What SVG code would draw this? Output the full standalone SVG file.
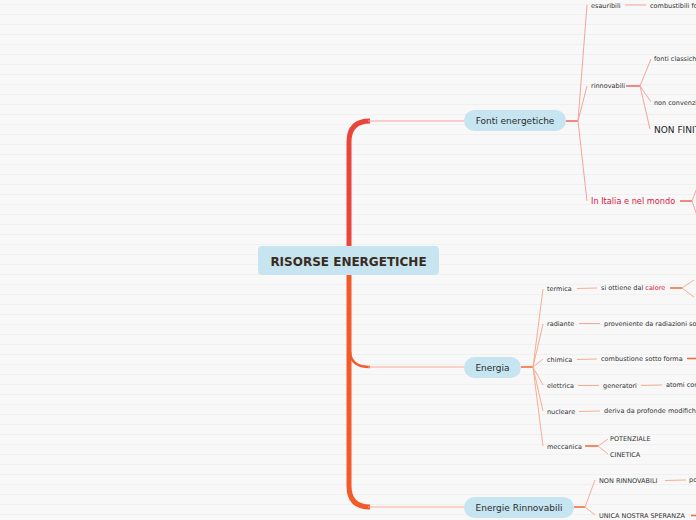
<svg xmlns="http://www.w3.org/2000/svg" width="696" height="520" viewBox="0 0 696 520">
<defs>
<pattern id="stripes" x="0" y="0" width="696" height="10" patternUnits="userSpaceOnUse">
<rect width="696" height="10" fill="#f8f8f8"/>
<line x1="0" y1="4.5" x2="696" y2="4.5" stroke="#f0f0f0" stroke-width="1"/>
</pattern>
<style>
.t{font-family:"DejaVu Sans",Verdana,sans-serif;font-size:6.5px;fill:#333333}
.tr{fill:#d6173f}
.n{font-family:"DejaVu Sans",Verdana,sans-serif;font-size:9px;fill:#2b2b2b;text-anchor:middle}
.box{fill:#c6e5f1}
.cf{fill:none;stroke:#f5a39e;stroke-width:1}
.cfs{fill:none;stroke:#ee6d66;stroke-width:1.6}
.ce{fill:none;stroke:#f7ad92;stroke-width:1}
.ces{fill:none;stroke:#f0703e;stroke-width:1.6}
</style>
</defs>
<rect width="696" height="520" fill="url(#stripes)"/>
<g id="connectors">
<path d="M349 250 L349 142 Q349 121 370 121" fill="none" stroke="#ea453a" stroke-width="5"/>
<path d="M349 270 L349 486 Q349 507 370 507" fill="none" stroke="#f15a29" stroke-width="5"/>
<path d="M350 352 Q351 367 370 367" fill="none" stroke="#f15a29" stroke-width="2.5"/>
<line x1="368" y1="121" x2="464" y2="121" stroke="#f5a39e" stroke-width="1"/>
<line x1="368" y1="367" x2="464" y2="367" stroke="#f7ad92" stroke-width="1"/>
<line x1="368" y1="507" x2="464" y2="507" stroke="#f7ad92" stroke-width="1"/>
<line class="cfs" x1="566" y1="121" x2="578" y2="121"/>
<path class="cf" d="M578 121 L587 5"/>
<path class="cf" d="M578 121 L587 86"/>
<path class="cf" d="M578 121 L587 201"/>
<line class="cf" x1="625" y1="5" x2="646" y2="5"/>
<line class="cfs" x1="626" y1="86" x2="640" y2="86"/>
<path class="cf" d="M640 86 L651 59"/>
<path class="cf" d="M640 86 L651 102"/>
<path class="cf" d="M640 86 L650 129"/>
<line class="cfs" x1="680" y1="201" x2="692" y2="201"/>
<path class="cf" d="M692 201 L700 180"/>
<path class="cf" d="M692 201 L700 224"/>
<line class="ces" x1="521" y1="367" x2="533" y2="367"/>
<path class="ce" d="M533 367 L543 289"/>
<path class="ce" d="M533 367 L543 324"/>
<path class="ce" d="M533 367 L543 359"/>
<path class="ce" d="M533 367 L543 385"/>
<path class="ce" d="M533 367 L543 411"/>
<path class="ce" d="M533 367 L543 446"/>
<line class="ce" x1="577" y1="288.5" x2="597" y2="288"/>
<line class="ces" x1="670" y1="288" x2="682" y2="288"/>
<path class="ce" d="M682 288 L694 280"/>
<path class="ce" d="M682 288 L694 297"/>
<line class="ce" x1="579" y1="323.5" x2="600" y2="323.5"/>
<line class="ce" x1="577" y1="359.5" x2="597" y2="359"/>
<line class="ces" x1="687" y1="358.5" x2="696" y2="358.5"/>
<line class="ce" x1="578" y1="385.5" x2="599" y2="385.5"/>
<line class="ce" x1="641" y1="385.5" x2="662" y2="385"/>
<line class="ce" x1="579" y1="411.5" x2="600" y2="411"/>
<line class="ces" x1="585" y1="446" x2="598" y2="446"/>
<path class="ce" d="M598 446 L608 439"/>
<path class="ce" d="M598 446 L608 454"/>
<line class="ces" x1="574" y1="507" x2="585" y2="507"/>
<path class="ce" d="M585 507 L595 480"/>
<path class="ce" d="M585 507 L595 515"/>
<line class="ce" x1="665" y1="480.5" x2="686" y2="480"/>
<line class="ces" x1="691" y1="515.5" x2="696" y2="515.5"/>
</g>
<g id="root">
<rect x="258" y="246" width="181" height="29" rx="4" class="box"/>
<text x="348.5" y="265.5" text-anchor="middle" font-family="DejaVu Sans,Verdana,sans-serif" font-size="12" font-weight="bold" fill="#3b2a20">RISORSE ENERGETICHE</text>
</g>
<g id="fonti">
<rect x="464" y="110" width="102" height="21" rx="10.5" class="box"/>
<text x="515" y="124.2" class="n">Fonti energetiche</text>
</g>
<g id="energia">
<rect x="464" y="357" width="57" height="21" rx="10.5" class="box"/>
<text x="492.5" y="370.7" class="n">Energia</text>
</g>
<g id="rinnovabili-node">
<rect x="464" y="497" width="110" height="21" rx="10.5" class="box"/>
<text x="519" y="510.7" class="n">Energie Rinnovabili</text>
</g>
<g id="esauribili"><text x="591" y="7.5" class="t">esauribili</text></g>
<g id="combustibili"><text x="650" y="7.5" class="t">combustibili fossili</text></g>
<g id="rinnovabili"><text x="591" y="88" class="t">rinnovabili</text></g>
<g id="classiche"><text x="654" y="60.5" class="t">fonti classiche</text></g>
<g id="nonconv"><text x="654" y="104.5" class="t">non convenzionali</text></g>
<g id="nonfini"><text x="654" y="133.2" font-family="DejaVu Sans,Verdana,sans-serif" font-size="9" fill="#222">NON FINITE</text></g>
<g id="italia"><text x="591" y="204" class="t tr" style="font-size:8.2px">In Italia e nel mondo</text></g>
<g id="termica"><text x="547" y="290.5" class="t">termica</text></g>
<g id="calore"><text x="601" y="290" class="t">si ottiene dal <tspan class="tr">calore</tspan></text></g>
<g id="radiante"><text x="547" y="326" class="t">radiante</text></g>
<g id="radiazioni"><text x="604" y="326" class="t">proveniente da radiazioni solari</text></g>
<g id="chimica"><text x="547" y="361.5" class="t">chimica</text></g>
<g id="combustione"><text x="601" y="361" class="t">combustione sotto forma</text></g>
<g id="elettrica"><text x="547" y="387.5" class="t">elettrica</text></g>
<g id="generatori"><text x="603" y="387.5" class="t">generatori</text></g>
<g id="atomi"><text x="666" y="387" class="t">atomi con</text></g>
<g id="nucleare"><text x="547" y="413.5" class="t">nucleare</text></g>
<g id="deriva"><text x="604" y="413" class="t">deriva da profonde modifiche</text></g>
<g id="meccanica"><text x="547" y="448.5" class="t">meccanica</text></g>
<g id="potenziale"><text x="610" y="440.5" class="t">POTENZIALE</text></g>
<g id="cinetica"><text x="610" y="456.5" class="t">CINETICA</text></g>
<g id="nonrinn"><text x="599" y="482.5" class="t">NON RINNOVABILI</text></g>
<g id="po"><text x="689" y="482" class="t">po</text></g>
<g id="unica"><text x="599" y="517.5" class="t">UNICA NOSTRA SPERANZA</text></g>
</svg>
